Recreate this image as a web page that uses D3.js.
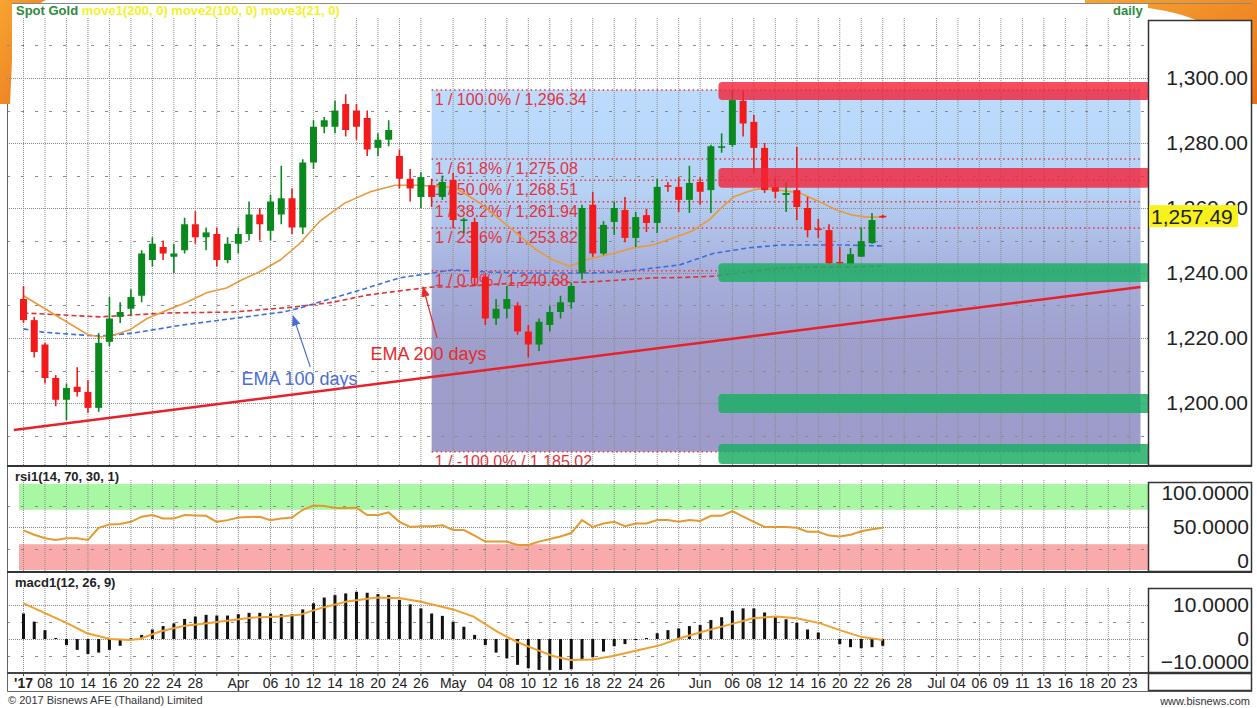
<!DOCTYPE html>
<html>
<head>
<meta charset="utf-8">
<script src="https://cdn.jsdelivr.net/npm/d3@7"></script>
<style>
  body { margin: 0; background: #fff; }
  svg { display: block; font-family: "Liberation Sans", Arial, sans-serif; }
</style>
</head>
<body>
<script>
// ---- data (bar number = trading day from 6 Mar 2017) ----
// [open, high, low, close]
const ohlc = [
  [1232,1236,1224.6,1225.5],[1225.5,1226.5,1214,1215.7],[1218,1218.5,1206,1207.7],[1207.7,1208.6,1199,1201],
  [1201,1206,1194.8,1204.6],[1205,1211,1202,1203.4],[1203.4,1207,1197,1198.5],[1198.5,1221.5,1197.3,1218.5],
  [1218.8,1232.6,1217.5,1226],[1226.5,1231,1224.6,1228],[1229,1235,1227,1232.6],[1233,1247,1231,1246],
  [1244,1251,1242,1249],[1248,1250,1244,1246],[1245,1249,1240,1246],[1247,1257,1246,1255],
  [1255,1259,1249,1251],[1251,1254,1247,1252.5],[1252,1254,1242,1244],[1244,1251,1243,1249],
  [1249,1254,1246,1252],[1252,1262,1250,1258],[1258,1260,1250,1255],[1253,1264,1250,1262],
  [1258,1273,1255,1263],[1263,1266,1252,1254],[1254,1275,1252,1274],[1274,1287,1272,1285],
  [1285,1288,1283,1287],[1285,1293,1283,1290],[1292,1295,1282,1284],[1290,1292,1281,1285],
  [1287.7,1290,1276,1278],[1278.5,1283,1276,1281],[1281,1287,1279,1284],[1276,1278,1266,1269],
  [1269,1272,1262,1266],[1263.4,1271,1260,1269.5],[1267,1269,1260.3,1263.4],[1263.4,1270,1262.5,1268],
  [1268.6,1270.8,1253.8,1256.3],[1256,1257,1252.3,1256.5],[1255.7,1257,1236,1238.5],[1238.8,1240,1224,1226],
  [1226,1232,1224,1229],[1229,1236,1226,1232],[1230,1231,1221,1222],[1222,1224,1214,1218],
  [1218,1226,1216,1225],[1224,1230,1222,1228],[1228,1233,1226,1231],[1231,1237,1229,1236],
  [1240,1261,1238,1260],[1261,1265,1245,1246],[1246,1256,1245.5,1254.8],[1255.7,1262,1251.7,1260],
  [1259.4,1263.4,1249.5,1250.8],[1250.8,1258.8,1248,1257.2],[1257.8,1259.7,1252.6,1255.4],[1255.4,1269,1252.3,1266.5],
  [1267,1268,1265,1266.8],[1266.5,1269.5,1258.8,1262.5],[1262.5,1273,1258.5,1267.7],[1268,1269.5,1261,1265],
  [1265.5,1279.5,1258.5,1279],[1278.5,1283,1277,1279],[1279.4,1296.3,1278.8,1293.2],[1293,1296,1282,1286],
  [1286.5,1288.6,1270.8,1278.5],[1278.5,1280,1264.6,1265.5],[1266.5,1269.5,1263,1265],[1264,1268,1258.8,1264.6],
  [1265.5,1278.8,1256.3,1260.3],[1260,1263.4,1251,1253.2],[1253.7,1256.6,1250.8,1253.4],[1253.2,1255,1242.8,1243],
  [1243.4,1248,1242.5,1243],[1242.8,1247.7,1242.5,1245.8],[1245,1254,1245,1249.8],[1249.2,1258.5,1249,1256.3],
  [1257.6,1257.9,1256.9,1257.49]
];

const rsi = [46,41,37,35,37,37,35,49,53,53.5, 56,62,64,60,60,64,63.5,63,56,58,
  61,61.5,62,58,60,61,70,75,74.5,72, 72,72.5,64,64,67,56,50,51,51,52,
  46.5,46.5,40,33,33,33,29,29,33,36, 39,43,58,50,54,56,51,54,54,58,
  58,56,58,57,63,63,68.6,62,56,50, 50,50,49,44.5,44.5,40,39,41,45,47.5, 49];

const macd = [7.5,5.1,2.6,0.3,-1.8,-3.2,-4.4,-4,-3.2,-2, 0.2,1.2,2.8,3.8,4.6,5.9,6.6,7.1,6.9,6.9,
  7.3,7.7,7.7,7.5,7.3,7.3,8.7,10.5,12.2,12.9, 13.4,13.9,13.6,13.2,12.9,11.5,10.2,9.0,7.5,6.8,
  5.1,3.6,1.2,-1.8,-4,-5.7,-7.6,-8.6,-9.1,-9.1, -9.1,-8.9,-6,-5.4,-3.7,-2.1,-1.5,-0.3,0.3,1.7,
  2.6,3.1,3.8,4.1,5.6,6.4,8.3,9.0,9.0,7.8, 6.6,5.8,4.8,2.8,1.9,0,-1.5,-2.4,-2.7,-2.4, -2];

// [bar, value]
const macdSignal = [[0,10.5],[4.1,4.6],[5.9,1.7],[8.1,0],[9.9,-0.3],[10.8,0],[12.7,2.2],[14.9,3.8],[17.1,4.6],
  [19.5,5.6],[21.4,6.3],[23.9,6.6],[25.7,7.1],[27.6,9],[30.1,11],[32.9,12.2],[35.1,12],[36.9,11],[40,8.7],
  [41.9,6.6],[44.1,2.2],[45.9,-0.8],[47.8,-3.2],[49.3,-5],[50.9,-6.2],[53,-6],[54.9,-5],[57.1,-3.4],
  [59.3,-1.8],[61.1,0.2],[63.3,2.2],[65.8,4.3],[67.9,6.1],[70.1,6.6],[72,6.1],[74.2,4.6],[76,2.6],[77.9,0.7],[80,-0.3]];

const ma21 = [[0,1233],[6,1221],[7.1,1220.3],[8.5,1221],[9.9,1222.5],[11.5,1226],[13.4,1228.6],[15.2,1231],
  [17.1,1234],[18.9,1235.4],[20.4,1238],[22,1240.4],[23.9,1244],[25.7,1249],[27.6,1256],[29.9,1261.5],
  [32.3,1265],[34.6,1267],[36.9,1267],[38.8,1266.5],[40,1266.5],[41,1264.6],[42.5,1261.5],[44.1,1257.2],
  [45.9,1252.3],[47.8,1247],[49.3,1244],[50.9,1242],[51.8,1243.4],[53,1244.6],[54.9,1246],[56.7,1247.7],
  [58.6,1248.6],[60.5,1250.8],[62.3,1253],[63.9,1256.5],[64.8,1259.5],[66.1,1263.4],[67.4,1265],[68.6,1266],
  [70.4,1265.5],[72.3,1264.6],[74.2,1261.8],[75.7,1259.4],[77.2,1257.8],[78.5,1257.2],[80,1257.2]];

const ma100 = [[0,1222.8],[1.8,1221.8],[5,1221],[7.1,1220.6],[10.2,1221.5],[14.8,1224],[19.5,1226],[24.2,1228],
  [25.7,1229.2],[28.8,1232.3],[32,1235.4],[35,1238.5],[38.1,1240],[40,1241],[43.2,1240.3],[46.2,1240],
  [49.3,1240],[52.5,1240],[55.5,1240.3],[58.6,1241.5],[61.1,1242.5],[64.2,1246],[67.4,1247.7],[70.4,1248.6],
  [73.5,1248.6],[76.7,1248.6],[80,1248.3]];

const ma200 = [[0,1227.7],[7.1,1226.5],[13.4,1227.7],[19.5,1228],[25.1,1229.5],[28.8,1231],[32,1233.2],
  [35,1234.5],[38.1,1235.7],[40,1235.7],[46.2,1237],[52.5,1237.2],[58.6,1238.5],[61.1,1238.6],[64.2,1239],
  [67.4,1240.3],[70.4,1241.5],[73.5,1241.8],[76.7,1241.8],[80,1242.2]];

const fibHigh = 1296.34, fibLow = 1240.68;
const fibPcts = [100, 61.8, 50, 38.2, 23.6, 0, -100];
const fibBars = [38, 104];

// support / resistance zones [low, high]
const redZones = [[1293.2,1298.8],[1266.2,1272.3]];
const greenZones = [[1237.2,1243],[1196.9,1202.8],[1181.2,1187.4]];
const zoneBars = [64.7, 104.9];

const trendLine = [[-0.9,1191.7],[104,1235.7]];

const notes = [
  {text: "EMA 100 days", at: [20.3,1205.5], from: [26.7,1211.1], to: [25.1,1226.8], color: "#4a6cd4"},
  {text: "EMA 200 days", at: [32.3,1213.2], from: [38.5,1220], to: [37.2,1235.7], color: "#e82a2a"}
];

const tickBars   = [0,2,4,6,8,10,12,14,16,18,20,23,25,27,29,31,33,35,37,40,43,45,47,49,51,53,55,57,59,61,63,66,68,70,72,74,76,78,80,82,85,87,89,91,93,95,97,99,101,103];
const tickLabels = ["'17","08","10","14","16","20","22","24","28","","Apr","06","10","12","14","18","20","24","26","May","04","08","10","12","16","18","22","24","26","","Jun","06","08","12","14","16","20","22","26","28","Jul","04","06","09","11","13","16","18","20","23"];

const priceTicks = [1200,1220,1240,1260,1280,1300];
const rsiTicks = [100,50,0];
const macdTicks = [10,0,-10];
const lastPrice = 1257.49;

// ---- layout ----
const W = 1257, H = 708;
const L = 7, R = 1148, AX = 1252;
const mainT = 18, mainB = 466, rsiT = 468, rsiB = 572, macdT = 574, macdB = 673;

const x = d3.scaleLinear().domain([0, 79]).range([23.5, 872]);
const yMain = d3.scaleLinear().domain([1200, 1300]).range([403, 78]);
const yRsi = d3.scaleLinear().domain([0, 100]).range([570, 484]);
const yMacd = d3.scaleLinear().domain([-10, 10]).range([673, 605]);

const svg = d3.select("body").append("svg").attr("width", W).attr("height", H);
const defs = svg.append("defs");

const grad = defs.append("linearGradient").attr("id", "fibGrad")
  .attr("x1", 0).attr("y1", 0).attr("x2", 0).attr("y2", 1);
[[0,"#bddcfd"],[0.28,"#b6d2f5"],[0.5,"#a7b0dc"],[0.7,"#9f9fcc"],[1,"#9c9bc9"]]
  .forEach(s => grad.append("stop").attr("offset", s[0]).attr("stop-color", s[1]));

const og = defs.append("linearGradient").attr("id", "orange")
  .attr("x1", 0).attr("y1", 0).attr("x2", 1).attr("y2", 1);
og.append("stop").attr("offset", 0).attr("stop-color", "#f7a531");
og.append("stop").attr("offset", 1).attr("stop-color", "#e8701a");

function clip(id, y0, y1) {
  defs.append("clipPath").attr("id", id).append("rect")
    .attr("x", L).attr("y", y0).attr("width", R - L).attr("height", y1 - y0);
}
clip("cMain", mainT - 14, mainB);
clip("cRsi", rsiT, rsiB);
clip("cMacd", macdT, macdB);

defs.selectAll("marker").data(notes).join("marker")
  .attr("id", (d, i) => "arr" + i)
  .attr("viewBox", "0 0 10 10").attr("refX", 9).attr("refY", 5)
  .attr("markerWidth", 9).attr("markerHeight", 9).attr("orient", "auto")
  .append("path").attr("d", "M0,1 L10,5 L0,9 Z").attr("fill", d => d.color);

// background
svg.append("rect").attr("width", W).attr("height", H).attr("fill", "#fff");

// slide decoration behind the chart
svg.append("path").attr("d", "M0,0 H46 C28,8 16,30 12,60 L10,104 H0 Z").attr("fill", "url(#orange)");
svg.append("path").attr("d", "M1085,0 H1257 V104 H1252 C1251,40 1215,6 1085,3 Z").attr("fill", "url(#orange)");
svg.append("rect").attr("x", 12).attr("y", 4).attr("width", R - 12).attr("height", 100).attr("fill", "#fff");

// ---- main panel ----
const main = svg.append("g").attr("clip-path", "url(#cMain)");

// fib area
main.append("rect")
  .attr("x", x(fibBars[0])).attr("width", x(fibBars[1]) - x(fibBars[0]))
  .attr("y", yMain(fibHigh)).attr("height", yMain(fibLow - (fibHigh - fibLow)) - yMain(fibHigh))
  .attr("fill", "url(#fibGrad)");

// grid
function vGrid(g, y0, y1) {
  g.selectAll(".vg").data(tickBars).join("line")
    .attr("x1", d => x(d)).attr("x2", d => x(d)).attr("y1", y0).attr("y2", y1)
    .attr("stroke", "#8a8a8a").attr("stroke-width", 1).attr("stroke-dasharray", "1,1");
}
function hGrid(g, vals, y, dash) {
  g.selectAll(null).data(vals).join("line")
    .attr("x1", L).attr("x2", R).attr("y1", d => Math.round(y(d)) + 0.5).attr("y2", d => Math.round(y(d)) + 0.5)
    .attr("stroke", "#8a8a8a").attr("stroke-width", 1).attr("stroke-dasharray", dash);
}
vGrid(main, mainT, mainB);
hGrid(main, priceTicks, yMain, "1,1");
hGrid(main, [1190,1210,1230,1250,1270,1290,1310], yMain, "3,11");

// fib lines + labels
const fmt = d3.format(",.2f");
const fibs = fibPcts.map(p => ({p, v: fibLow + p / 100 * (fibHigh - fibLow)}));
main.selectAll(".fl").data(fibs).join("line")
  .attr("x1", x(fibBars[0])).attr("x2", x(fibBars[1]))
  .attr("y1", d => yMain(d.v)).attr("y2", d => yMain(d.v))
  .attr("stroke", "#e8343e").attr("stroke-width", 1.5).attr("stroke-dasharray", "1.5,3");
main.selectAll(".ft").data(fibs).join("text")
  .attr("x", x(fibBars[0]) + 3).attr("y", d => yMain(d.v) + 15)
  .attr("font-size", 16).attr("fill", "#e5333d")
  .text(d => `1 / ${d.p.toFixed(1)}% / ${fmt(d.v)}`);

// trend line
main.append("line")
  .attr("x1", x(trendLine[0][0])).attr("y1", yMain(trendLine[0][1]))
  .attr("x2", x(trendLine[1][0])).attr("y2", yMain(trendLine[1][1]))
  .attr("stroke", "#e8202a").attr("stroke-width", 2.6);

// moving averages
const line = d3.line().x(d => x(d[0])).y(d => yMain(d[1]));
main.append("path").datum(ma200).attr("d", line).attr("fill", "none")
  .attr("stroke", "#e03434").attr("stroke-width", 1.6).attr("stroke-dasharray", "5,3");
main.append("path").datum(ma100).attr("d", line).attr("fill", "none")
  .attr("stroke", "#3b6fe0").attr("stroke-width", 1.6).attr("stroke-dasharray", "5,3");
main.append("path").datum(ma21).attr("d", line).attr("fill", "none")
  .attr("stroke", "#e89a3c").attr("stroke-width", 1.6);

// candles
const up = "#0a8a1e", down = "#f21a1a";
const cg = main.append("g");
cg.selectAll("line").data(ohlc).join("line")
  .attr("x1", (d, i) => x(i)).attr("x2", (d, i) => x(i))
  .attr("y1", d => yMain(d[1])).attr("y2", d => yMain(d[2]))
  .attr("stroke", d => d[3] >= d[0] ? up : down).attr("stroke-width", 1.6);
cg.selectAll("rect").data(ohlc).join("rect")
  .attr("x", (d, i) => x(i) - 3.5).attr("width", 7)
  .attr("y", d => yMain(Math.max(d[0], d[3])))
  .attr("height", d => Math.max(1.6, Math.abs(yMain(d[0]) - yMain(d[3]))))
  .attr("fill", d => d[3] >= d[0] ? up : down);

// annotations
notes.forEach((n, i) => {
  main.append("line")
    .attr("x1", x(n.from[0])).attr("y1", yMain(n.from[1]))
    .attr("x2", x(n.to[0])).attr("y2", yMain(n.to[1]))
    .attr("stroke", n.color).attr("stroke-width", 1.2).attr("marker-end", `url(#arr${i})`);
  main.append("text").attr("x", x(n.at[0])).attr("y", yMain(n.at[1]))
    .attr("font-size", 18).attr("fill", n.color).text(n.text);
});

// zones
const zg = svg.append("g");
zg.selectAll(".rz").data(redZones).join("rect")
  .attr("x", x(zoneBars[0])).attr("width", x(zoneBars[1]) - x(zoneBars[0]))
  .attr("y", d => yMain(d[1])).attr("height", d => yMain(d[0]) - yMain(d[1]))
  .attr("rx", 4).attr("fill", "#f0263a").attr("opacity", 0.82);
zg.selectAll(".gz").data(greenZones).join("rect")
  .attr("x", x(zoneBars[0])).attr("width", x(zoneBars[1]) - x(zoneBars[0]))
  .attr("y", d => yMain(d[1])).attr("height", d => yMain(d[0]) - yMain(d[1]))
  .attr("rx", 4).attr("fill", "#1fae66").attr("opacity", 0.85);

// header
const hd = svg.append("text").attr("x", 16).attr("y", 15).attr("font-size", 13).attr("font-weight", "bold");
hd.append("tspan").attr("fill", "#2c8a3c").text("Spot Gold ");
hd.append("tspan").attr("fill", "#f2f22a").text("move1(200, 0) move2(100, 0) move3(21, 0)");
svg.append("text").attr("x", 1113).attr("y", 15).attr("font-size", 13).attr("font-weight", "bold")
  .attr("fill", "#2c8a3c").text("daily");

// ---- RSI panel ----
const rg = svg.append("g").attr("clip-path", "url(#cRsi)");
rg.append("rect").attr("x", L + 12).attr("width", R - L - 12).attr("y", yRsi(100)).attr("height", yRsi(70) - yRsi(100)).attr("fill", "#a8f7a2");
rg.append("rect").attr("x", L + 12).attr("width", R - L - 12).attr("y", yRsi(30)).attr("height", yRsi(0) - yRsi(30)).attr("fill", "#f9abab");
vGrid(rg, rsiT + 12, rsiB);
hGrid(rg, [50], yRsi, "1,1");
hGrid(rg, [25, 75], yRsi, "3,11");
rg.append("path").datum(rsi).attr("fill", "none").attr("stroke", "#e49a30").attr("stroke-width", 2)
  .attr("d", d3.line().x((d, i) => x(i)).y(d => yRsi(d)));
svg.append("text").attr("x", 15).attr("y", 481).attr("font-size", 13).attr("font-weight", "bold")
  .attr("fill", "#222").text("rsi1(14, 70, 30, 1)");

// ---- MACD panel ----
const mg = svg.append("g").attr("clip-path", "url(#cMacd)");
vGrid(mg, macdT + 14, macdB);
hGrid(mg, [10, 0], yMacd, "1,1");
hGrid(mg, [5, -5], yMacd, "3,11");
mg.selectAll("rect").data(macd).join("rect")
  .attr("x", (d, i) => x(i) - 1.5).attr("width", 3)
  .attr("y", d => yMacd(Math.max(0, d))).attr("height", d => Math.abs(yMacd(d) - yMacd(0)))
  .attr("fill", "#111");
mg.append("path").datum(macdSignal).attr("fill", "none").attr("stroke", "#f0a030").attr("stroke-width", 2)
  .attr("d", d3.line().x(d => x(d[0])).y(d => yMacd(d[1])));
svg.append("text").attr("x", 15).attr("y", 587).attr("font-size", 13).attr("font-weight", "bold")
  .attr("fill", "#222").text("macd1(12, 26, 9)");

// ---- frames & separators ----
svg.append("path").attr("d", `M${L + 0.5},104 V691.5 H${AX}`).attr("fill", "none").attr("stroke", "#666");
svg.append("line").attr("x1", 12).attr("x2", AX).attr("y1", 3.5).attr("y2", 3.5).attr("stroke", "#888");
[mainB, rsiB].forEach(yy => svg.append("line").attr("x1", L).attr("x2", AX).attr("y1", yy).attr("y2", yy)
  .attr("stroke", "#333").attr("stroke-width", 2));
svg.append("line").attr("x1", L).attr("x2", R).attr("y1", macdB).attr("y2", macdB).attr("stroke", "#444").attr("stroke-width", 2);

// ---- right axis boxes ----
function axisBox(y0, y1) {
  svg.append("rect").attr("x", R + 0.5).attr("y", y0 + 0.5).attr("width", AX - R - 1).attr("height", y1 - y0 - 1)
    .attr("fill", "#fff").attr("stroke", "#333").attr("stroke-width", 1.5);
}
axisBox(20, mainB);
axisBox(482, rsiB);
axisBox(588, macdB);
axisBox(macdB, 691);

svg.append("g").selectAll("text").data(priceTicks).join("text")
  .attr("x", 1248).attr("y", d => yMain(d)).attr("dy", "0.35em").attr("text-anchor", "end")
  .attr("font-size", 21).attr("fill", "#222").text(d => fmt(d));

function sideLabels(vals, y, y0, y1, f) {
  svg.append("g").selectAll("text").data(vals).join("text")
    .attr("x", 1249).attr("y", d => Math.max(y0 + 11, Math.min(y1 - 11, y(d)))).attr("dy", "0.35em")
    .attr("text-anchor", "end").attr("font-size", 21).attr("fill", "#222").text(f);
}
sideLabels(rsiTicks, yRsi, 482, rsiB, d => d === 0 ? "0" : d3.format(".4f")(d));
sideLabels(macdTicks, yMacd, 588, macdB, d => d === 0 ? "0" : d3.format(".4f")(d));

// last price tag
svg.append("rect").attr("x", R + 1).attr("y", yMain(lastPrice) - 11).attr("width", 89).attr("height", 22).attr("fill", "#f7f21c");
svg.append("text").attr("x", R + 3).attr("y", yMain(lastPrice)).attr("dy", "0.35em")
  .attr("font-size", 21).attr("fill", "#222").text(fmt(lastPrice));

// ---- x axis labels ----
const xa = svg.append("g");
xa.selectAll("line").data(tickBars).join("line")
  .attr("x1", d => x(d)).attr("x2", d => x(d)).attr("y1", macdB).attr("y2", macdB + 3)
  .attr("stroke", "#444");
xa.selectAll("text").data(tickBars).join("text")
  .attr("x", d => x(d)).attr("y", 688).attr("text-anchor", "middle")
  .attr("font-size", 14).attr("fill", "#222")
  .attr("font-weight", (d, i) => i === 0 ? "bold" : null)
  .text((d, i) => tickLabels[i]);

// footer
svg.append("text").attr("x", 8).attr("y", 704).attr("font-size", 11).attr("fill", "#333")
  .text("\u00a9 2017 Bisnews AFE (Thailand) Limited");
svg.append("text").attr("x", 1250).attr("y", 705).attr("font-size", 11).attr("fill", "#333")
  .attr("text-anchor", "end").text("www.bisnews.com");
</script>
</body>
</html>
